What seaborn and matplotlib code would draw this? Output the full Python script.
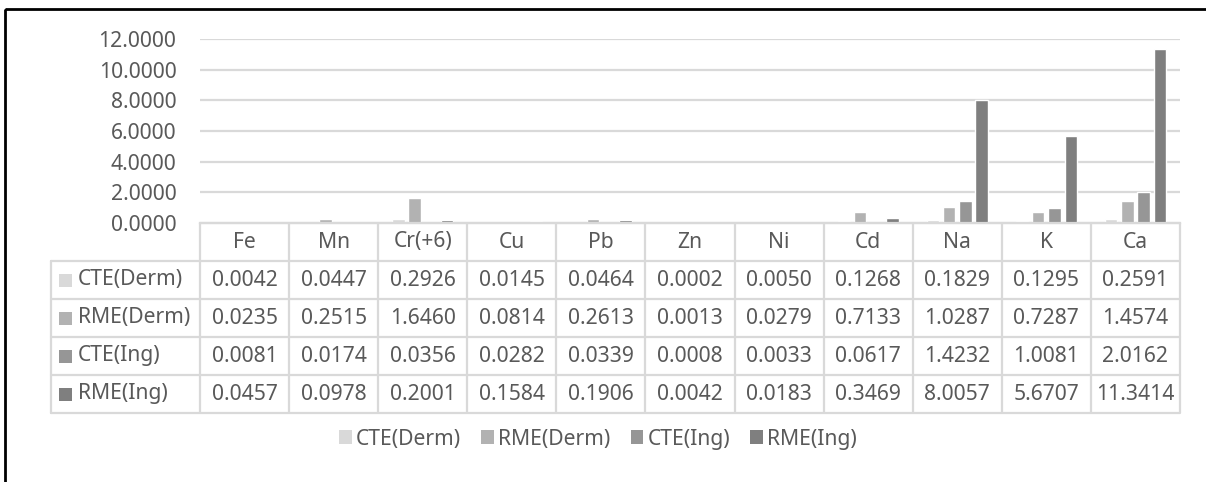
import numpy as np
import pandas as pd
import matplotlib
matplotlib.use("Agg")
import matplotlib.pyplot as plt
import seaborn as sns
from matplotlib.patches import Rectangle

# Exposure estimates per element and scenario
elements = ["Fe", "Mn", "Cr(+6)", "Cu", "Pb", "Zn", "Ni", "Cd", "Na", "K", "Ca"]
cte_derm = [0.0042, 0.0447, 0.2926, 0.0145, 0.0464, 0.0002, 0.0050, 0.1268, 0.1829, 0.1295, 0.2591]
rme_derm = [0.0235, 0.2515, 1.6460, 0.0814, 0.2613, 0.0013, 0.0279, 0.7133, 1.0287, 0.7287, 1.4574]
cte_ing = [0.0081, 0.0174, 0.0356, 0.0282, 0.0339, 0.0008, 0.0033, 0.0617, 1.4232, 1.0081, 2.0162]
rme_ing = [0.0457, 0.0978, 0.2001, 0.1584, 0.1906, 0.0042, 0.0183, 0.3469, 8.0057, 5.6707, 11.3414]
series_names = ["CTE(Derm)", "RME(Derm)", "CTE(Ing)", "RME(Ing)"]
series_colors = ["#d9d9d9", "#b2b2b2", "#969696", "#7f7f7f"]
y_ticks = [0, 2, 4, 6, 8, 10, 12]

series_values = [cte_derm, rme_derm, cte_ing, rme_ing]
df = pd.DataFrame({
    "element": np.tile(elements, len(series_names)),
    "series": np.repeat(series_names, len(elements)),
    "value": np.concatenate(series_values),
})

sns.set_theme(style="white")
plt.rcParams["font.family"] = ["Noto Sans", "DejaVu Sans"]
TXT = "#595959"
LINE = "#d9d9d9"
FS = 15.2

W, H = 1206, 482
fig = plt.figure(figsize=(W / 100, H / 100), dpi=100)
fig.patch.set_facecolor("white")


def fx(px):
    return px / W


def fy(py):
    return 1 - py / H


# pixel frame for table, border and legend
left, right, top, base = 200, 1180, 39, 223
ax = fig.add_axes([fx(left), fy(base), fx(right) - fx(left), fy(top) - fy(base)])
sns.barplot(data=df, x="element", y="value", hue="series", order=elements,
            hue_order=series_names, palette=series_colors, saturation=1,
            width=0.73, gap=0.235, legend=False, ax=ax)
ax.set_ylim(0, 12)
ax.set_xlim(-0.5, len(elements) - 0.5)
ax.set_yticks(y_ticks)
ax.set_yticklabels([f"{v:.4f}" for v in y_ticks], color=TXT, fontsize=FS)
ax.set_xticks([])
ax.set_xlabel("")
ax.set_ylabel("")
ax.tick_params(axis="y", length=0, pad=17)
ax.yaxis.grid(True, color=LINE, lw=1.6)
ax.set_axisbelow(True)
for s in ["top", "right", "left"]:
    ax.spines[s].set_visible(False)
ax.spines["bottom"].set_color(LINE)
ax.spines["bottom"].set_linewidth(1.6)

# data table underneath the plot
tax = fig.add_axes([0, 0, 1, 1], zorder=-1)
tax.set_xlim(0, W)
tax.set_ylim(H, 0)
tax.axis("off")

ncol = len(elements)
cw = (right - left) / ncol
col_x = [left + i * cw for i in range(ncol + 1)]
row_y = [223, 261, 299, 337, 375, 413]
lab_left = 51
lw = 1.6
for x in col_x:
    tax.plot([x, x], [row_y[0], row_y[-1]], color=LINE, lw=lw, solid_capstyle="butt")
tax.plot([lab_left, lab_left], [row_y[1], row_y[-1]], color=LINE, lw=lw)
for i, y in enumerate(row_y):
    x0 = left if i == 0 else lab_left
    tax.plot([x0, right], [y, y], color=LINE, lw=lw)

hy = (row_y[0] + row_y[1]) / 2
for i, name in enumerate(elements):
    tax.text(col_x[i] + cw / 2, hy, name, ha="center", va="center", color=TXT, fontsize=FS)

for r, (name, vals, c) in enumerate(zip(series_names, series_values, series_colors)):
    yc = (row_y[r + 1] + row_y[r + 2]) / 2
    tax.add_patch(Rectangle((59, yc - 6.5), 13, 13, color=c, lw=0))
    tax.text(78, yc, name, ha="left", va="center", color=TXT, fontsize=FS)
    for i, v in enumerate(vals):
        tax.text(col_x[i] + cw / 2, yc, f"{v:.4f}", ha="center", va="center",
                 color=TXT, fontsize=FS)

# outer frame
tax.add_patch(Rectangle((5, 9), W + 20, H + 20, fill=False, ec="black", lw=2, clip_on=False))

# legend
handles = [Rectangle((0, 0), 1, 1, color=c, lw=0) for c in series_colors]
fig.legend(handles, series_names, loc="center", bbox_to_anchor=(fx(598), fy(439)),
           ncol=4, frameon=False, fontsize=FS, labelcolor=TXT,
           handlelength=0.6, handleheight=0.6, handletextpad=0.2,
           columnspacing=0.95)

fig.savefig("out.png", dpi=100, facecolor="white")
